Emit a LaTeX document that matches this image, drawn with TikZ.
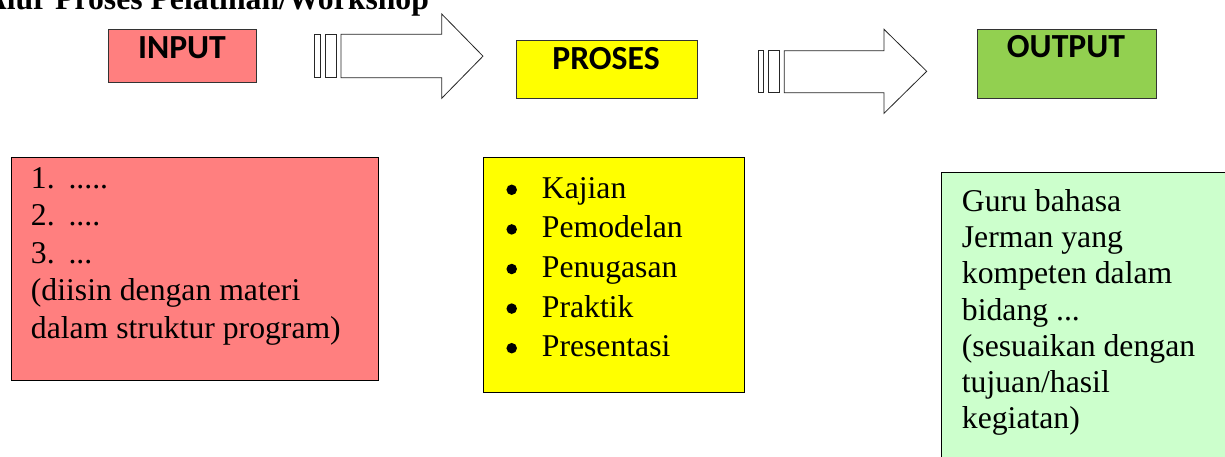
\documentclass[tikz,border=0pt]{standalone}
\usepackage{fontspec}
\setmainfont{Liberation Serif}
\newfontfamily\lbfont{Carlito}
\definecolor{inred}{HTML}{FF7F7F}
\definecolor{pyellow}{HTML}{FFFF00}
\definecolor{ogreen}{HTML}{92D050}
\definecolor{olight}{HTML}{CCFFCC}
\begin{document}
\begin{tikzpicture}[x=1pt,y=-1pt,
  topbox/.style={draw=black!80, line width=1pt, inner sep=0, anchor=north west},
  listbox/.style={draw=black, line width=1.4pt, inner sep=0, anchor=north west},
  blk/.style={draw=black!85, line width=0.8pt, fill=white},
  lbl/.style={font=\lbfont\bfseries\fontsize{33.7}{40}\selectfont, inner sep=0, anchor=base},
  txt/.style={font=\fontsize{31.7}{38}\selectfont, inner sep=0, anchor=base west},
  ttl/.style={font=\bfseries\fontsize{31.7}{38}\selectfont, inner sep=0, anchor=base west},
  bul/.style={circle, fill=black, inner sep=0, minimum size=10.5pt}]
\useasboundingbox (0,0) rectangle (1225,457);
\clip (0,0) rectangle (1225,457);
\fill[white] (0,0) rectangle (1225,457);

% title
\node[ttl] (title) at (-16.3,10) {Alur Proses Pelatihan/Workshop};

% top boxes
\node[topbox, fill=inred, minimum width=147.4pt, minimum height=53.3pt] (inbox) at (108.3,29) {};
\node[lbl] (inlbl) at (182,58.3) {INPUT};
\node[topbox, fill=pyellow, minimum width=181pt, minimum height=58.3pt] (prbox) at (515.7,40) {};
\node[lbl] (prlbl) at (606,69.3) {PROSES};
\node[topbox, fill=ogreen, minimum width=179.3pt, minimum height=69pt] (outbox) at (976.7,29.3) {};
\node[lbl] (outlbl) at (1066,57.3) {OUTPUT};

% block arrow 1
\draw[blk] (314.7,34.3) rectangle (320,77.7);
\draw[blk] (325,34.3) rectangle (336,77.7);
\draw[blk] (341,34.3) -- (441.7,34.3) -- (441.7,14) -- (483,56.15) -- (441.7,98.3) -- (441.7,77.7) -- (341,77.7) -- cycle;

% block arrow 2
\draw[blk] (758.3,50.7) rectangle (763.3,92.7);
\draw[blk] (768.3,50.7) rectangle (779.3,92.7);
\draw[blk] (784.3,50.7) -- (884,50.7) -- (884,29.3) -- (926.7,71.3) -- (884,113.3) -- (884,92.7) -- (784.3,92.7) -- cycle;

% input list
\node[listbox, fill=inred, minimum width=367.3pt, minimum height=223.3pt] (inlist) at (10.7,156.7) {};
\node[txt] (i1) at (30.7,188.3) {1.};
\node[txt] (i1b) at (68.3,188.3) {.....};
\node[txt] (i2) at (30.7,225.8) {2.};
\node[txt] (i2b) at (68.3,225.8) {....};
\node[txt] (i3) at (30.7,263.3) {3.};
\node[txt] (i3b) at (68.3,263.3) {...};
\node[txt] (i4) at (30.7,300.8) {(diisin dengan materi};
\node[txt] (i5) at (30.7,338.3) {dalam struktur program)};

% proses list
\node[listbox, fill=pyellow, minimum width=261.3pt, minimum height=235pt] (prlist) at (482.7,156.7) {};
\foreach \y/\t [count=\k] in {198.3/Kajian,237.9/Pemodelan,277.5/Penugasan,317.1/Praktik,356.7/Presentasi}{
  \node[bul] (pb\k) at (511.7,\y-8.5) {};
  \node[txt] (pt\k) at (541.7,\y) {\t};
}

% output list
\node[listbox, fill=olight, minimum width=300pt, minimum height=300pt] (outlist) at (941,171.7) {};
\node[txt] (ot1) at (961.7,211.7) {Guru bahasa};
\node[txt] (ot2) at (961.7,247.8) {Jerman yang};
\node[txt] (ot3) at (961.7,283.9) {kompeten dalam};
\node[txt] (ot4) at (961.7,320) {bidang ...};
\node[txt] (ot5) at (961.7,356.1) {(sesuaikan dengan};
\node[txt] (ot6) at (961.7,392.2) {tujuan/hasil};
\node[txt] (ot7) at (961.7,428.3) {kegiatan)};
\end{tikzpicture}
\end{document}
